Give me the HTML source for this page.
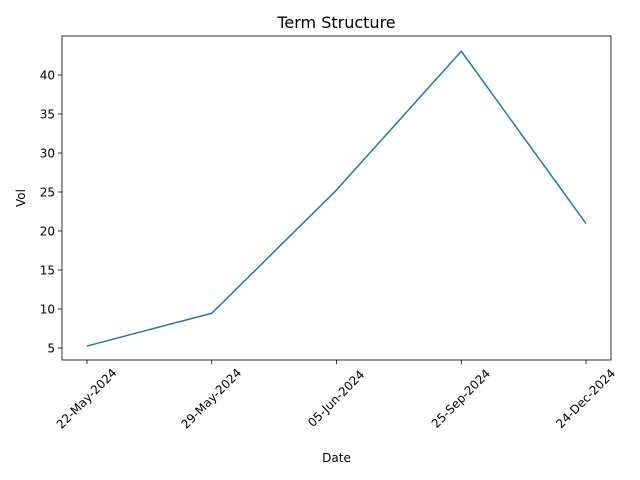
<!DOCTYPE html>
<html><head><meta charset="utf-8"><style>body{margin:0;background:#fff}svg{display:block;font-family:"DejaVu Sans","Liberation Sans",sans-serif}</style></head>
<body>
<svg id="chart" width="640" height="480"></svg>
<script>
const categories = ["22-May-2024","29-May-2024","05-Jun-2024","25-Sep-2024","24-Dec-2024"];
const vols = [5.25, 9.45, 25.25, 43.05, 20.95];
const yTicks = [5,10,15,20,25,30,35,40];
const L=62,R=611,T=36,B=360;
const yMin=3.46,yMax=45.0;
const xPad=0.2;
function xs(i){return L+(i+xPad)*(R-L)/(categories.length-1+2*xPad);}
function ys(v){return B-(v-yMin)*(B-T)/(yMax-yMin);}
const svg=document.getElementById('chart');
const NS='http://www.w3.org/2000/svg';
function mk(t,a,p){const e=document.createElementNS(NS,t);for(const k in a)e.setAttribute(k,a[k]);(p||svg).appendChild(e);return e;}
let e=mk('text',{x:(L+R)/2,y:28,'text-anchor':'middle','font-size':16,fill:'#000'});e.textContent='Term Structure';


yTicks.forEach(v=>{const y=ys(v);
 const l=mk('line',{x1:L-4,x2:L,y1:y,y2:y,stroke:'#000','stroke-width':0.8});
 
 
 const t=mk('text',{x:L-7,y:y+4.5,'text-anchor':'end','font-size':12,fill:'#000'});t.textContent=v;
 
 });
categories.forEach((c,i)=>{const x=xs(i);
 const l=mk('line',{x1:x,x2:x,y1:B,y2:B+4,stroke:'#000','stroke-width':0.8});
 
 
 const t=mk('text',{x:x,y:399,'text-anchor':'middle','dominant-baseline':'middle','font-size':12,fill:'#000',transform:`rotate(-45 ${x} 399)`});t.textContent=c;
 
 });
const pts=vols.map((v,i)=>xs(i)+','+ys(v)).join(' ');
const pl=mk('polyline',{points:pts,fill:'none',stroke:'#1f77b4','stroke-width':1.5,'stroke-linejoin':'round'});


const fr=mk('rect',{x:L,y:T,width:R-L,height:B-T,fill:'none',stroke:'#000','stroke-width':0.8});


e=mk('text',{x:(L+R)/2,y:462,'text-anchor':'middle','font-size':12,fill:'#000'});e.textContent='Date';


e=mk('text',{x:25,y:198,'text-anchor':'middle','font-size':12,fill:'#000',transform:'rotate(-90 25 198)'});e.textContent='Vol';


</script>
</body></html>
